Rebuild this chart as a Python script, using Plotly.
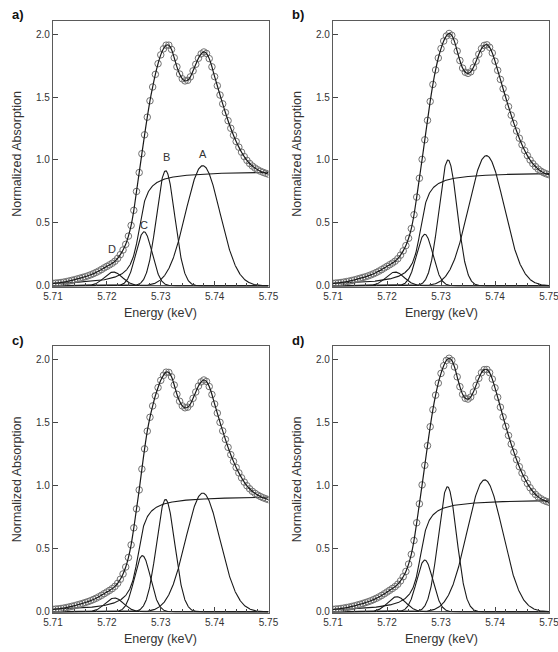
import numpy as np
import plotly.graph_objects as go

# ---------------- values ----------------
panel_labels = ["a)", "b)", "c)", "d)"]
peak_names = ["D", "C", "B", "A"]

# energy grid of the measured spectrum (keV), 0.5 eV steps
energy_start, energy_stop, energy_step = 5.7100, 5.7500, 0.0005

# measured normalized absorption (open circles), one list per panel
absorb_a = [0.020, 0.022, 0.024, 0.027, 0.030, 0.034, 0.039, 0.044, 0.049, 0.055,
            0.061, 0.067, 0.073, 0.080, 0.088, 0.097, 0.107, 0.118, 0.130, 0.143,
            0.155, 0.167, 0.180, 0.196, 0.218, 0.248, 0.285, 0.330, 0.395, 0.480,
            0.600, 0.750, 0.900, 1.050, 1.200, 1.340, 1.470, 1.580, 1.680, 1.765,
            1.835, 1.883, 1.912, 1.912, 1.878, 1.812, 1.740, 1.683, 1.645, 1.628,
            1.633, 1.660, 1.708, 1.760, 1.808, 1.843, 1.858, 1.846, 1.805, 1.740,
            1.662, 1.590, 1.516, 1.446, 1.377, 1.312, 1.252, 1.197, 1.147, 1.102,
            1.062, 1.027, 0.997, 0.972, 0.952, 0.936, 0.922, 0.911, 0.902, 0.894,
            0.887]
absorb_b = [0.020, 0.022, 0.024, 0.027, 0.030, 0.034, 0.038, 0.043, 0.048, 0.054,
            0.060, 0.066, 0.072, 0.079, 0.087, 0.096, 0.106, 0.117, 0.129, 0.142,
            0.155, 0.168, 0.181, 0.196, 0.216, 0.244, 0.278, 0.320, 0.378, 0.455,
            0.565, 0.705, 0.855, 1.005, 1.160, 1.315, 1.465, 1.600, 1.715, 1.810,
            1.885, 1.945, 1.985, 2.005, 1.990, 1.940, 1.865, 1.790, 1.730, 1.697,
            1.688, 1.700, 1.735, 1.785, 1.840, 1.885, 1.910, 1.915, 1.895, 1.850,
            1.785, 1.712, 1.640, 1.566, 1.494, 1.424, 1.356, 1.291, 1.230, 1.173,
            1.121, 1.075, 1.035, 1.000, 0.971, 0.947, 0.927, 0.911, 0.899, 0.890,
            0.883]
absorb_c = [0.020, 0.022, 0.024, 0.027, 0.030, 0.034, 0.039, 0.044, 0.049, 0.055,
            0.061, 0.067, 0.074, 0.081, 0.089, 0.098, 0.108, 0.119, 0.131, 0.144,
            0.157, 0.170, 0.184, 0.202, 0.226, 0.258, 0.300, 0.355, 0.430, 0.530,
            0.665, 0.815, 0.965, 1.130, 1.290, 1.430, 1.540, 1.630, 1.710, 1.775,
            1.832, 1.872, 1.897, 1.895, 1.860, 1.795, 1.722, 1.667, 1.630, 1.615,
            1.620, 1.645, 1.690, 1.740, 1.787, 1.820, 1.835, 1.823, 1.783, 1.720,
            1.645, 1.573, 1.500, 1.432, 1.365, 1.302, 1.244, 1.191, 1.143, 1.100,
            1.061, 1.027, 0.998, 0.974, 0.954, 0.938, 0.924, 0.913, 0.903, 0.895,
            0.888]
absorb_d = [0.020, 0.022, 0.024, 0.027, 0.030, 0.034, 0.038, 0.043, 0.048, 0.054,
            0.060, 0.066, 0.073, 0.080, 0.088, 0.097, 0.107, 0.118, 0.130, 0.143,
            0.157, 0.171, 0.185, 0.200, 0.219, 0.245, 0.278, 0.320, 0.378, 0.455,
            0.565, 0.705, 0.855, 1.005, 1.160, 1.315, 1.465, 1.600, 1.715, 1.810,
            1.887, 1.948, 1.990, 2.007, 1.990, 1.938, 1.860, 1.782, 1.722, 1.690,
            1.684, 1.700, 1.740, 1.793, 1.848, 1.893, 1.917, 1.918, 1.893, 1.842,
            1.773, 1.698, 1.620, 1.543, 1.468, 1.396, 1.328, 1.264, 1.204, 1.149,
            1.099, 1.055, 1.016, 0.982, 0.953, 0.929, 0.910, 0.895, 0.883, 0.874,
            0.867]
absorb = [absorb_a, absorb_b, absorb_c, absorb_d]

# arctan edge step of each fit
step_height = [0.915, 0.905, 0.920, 0.893]
step_center = [5.7260, 5.7262, 5.7258, 5.7262]
step_width = [0.0011, 0.0011, 0.0011, 0.0011]

# Gaussian fit components of each panel, order D, C, B, A
peak_centers = [
    [5.7212, 5.7269, 5.7309, 5.7378],
    [5.7215, 5.7270, 5.7313, 5.7384],
    [5.7214, 5.7266, 5.7309, 5.7378],
    [5.7218, 5.7270, 5.7312, 5.7381],
]
peak_heights = [
    [0.11, 0.43, 0.915, 0.955],
    [0.11, 0.41, 1.000, 1.035],
    [0.11, 0.445, 0.890, 0.940],
    [0.12, 0.41, 0.990, 1.045],
]
peak_sigmas = [
    [0.0017, 0.0015, 0.0017, 0.0032],
    [0.0017, 0.0015, 0.0017, 0.0033],
    [0.0017, 0.0015, 0.0017, 0.0032],
    [0.0017, 0.0015, 0.0017, 0.0033],
]

x_ticks = [5.71, 5.72, 5.73, 5.74, 5.75]
y_ticks = [0.0, 0.5, 1.0, 1.5, 2.0]
x_range = [5.71, 5.75]
y_range = [-0.005, 2.104]

# ---------------- layout geometry (pixels) ----------------
W, H = 558, 652
cols = [(53, 268.5), (333, 549)]
rows = [(21, 286.5), (346, 612.5)]
# peak-letter positions in panel a (keV, absorption units)
letter_pos = [(5.7209, 0.29), (5.7269, 0.48), (5.7310, 1.025), (5.7378, 1.05)]

n_pts = int(round((energy_stop - energy_start) / energy_step)) + 1
E_data = energy_start + energy_step * np.arange(n_pts)
E_fine = np.linspace(x_range[0], x_range[1], 801)


def step_fn(E, i):
    return step_height[i] * (0.5 + np.arctan((E - step_center[i]) / step_width[i]) / np.pi)


def gauss(E, c, h, s):
    return h * np.exp(-0.5 * ((E - c) / s) ** 2)


fig = go.Figure()
font_family = "Liberation Sans, Arial, sans-serif"
txt_col = "#333333"
line_col = "#1a1a1a"

annotations = []
for i in range(4):
    r, cidx = divmod(i, 2)
    x0, x1 = cols[cidx]
    y0, y1 = rows[r]
    n = "" if i == 0 else str(i + 1)
    xa, ya = "x" + n, "y" + n
    # fit components
    fig.add_trace(go.Scatter(x=E_fine, y=step_fn(E_fine, i), mode="lines",
                             line=dict(color=line_col, width=1.1), xaxis=xa, yaxis=ya,
                             showlegend=False, hoverinfo="skip"))
    for c, h, s in zip(peak_centers[i], peak_heights[i], peak_sigmas[i]):
        fig.add_trace(go.Scatter(x=E_fine, y=gauss(E_fine, c, h, s), mode="lines",
                                 line=dict(color=line_col, width=1.1), xaxis=xa, yaxis=ya,
                                 showlegend=False, hoverinfo="skip"))
    # measured data (open circles)
    fig.add_trace(go.Scatter(x=E_data, y=absorb[i], mode="markers",
                             marker=dict(symbol="circle-open", size=6.5,
                                         color="#707070", line=dict(width=1.0, color="#707070")),
                             xaxis=xa, yaxis=ya, showlegend=False))
    # total fit line through the data
    fig.add_trace(go.Scatter(x=E_data, y=absorb[i], mode="lines",
                             line=dict(color=line_col, width=1.2, shape="spline", smoothing=0.8),
                             xaxis=xa, yaxis=ya, showlegend=False, hoverinfo="skip"))

    dom_x = [x0 / W, x1 / W]
    dom_y = [1 - y1 / H, 1 - y0 / H]
    axis_common = dict(showline=True, linecolor="#5a5a5a", linewidth=1.3, mirror=True,
                       ticks="inside", tickcolor="#444444", showgrid=False, zeroline=False,
                       automargin=False, ticklabeloverflow="allow",
                       tickfont=dict(family=font_family, size=10, color=txt_col))
    fig.update_layout(**{
        ("xaxis" + n): dict(domain=dom_x, range=x_range, tickvals=x_ticks,
                            ticktext=["%.2f" % v for v in x_ticks], ticklen=5,
                            minor=dict(dtick=0.002, ticks="inside", ticklen=3, tickcolor="#444444"),
                            anchor=ya, **axis_common),
        ("yaxis" + n): dict(domain=dom_y, range=y_range, tickvals=y_ticks,
                            ticktext=["%.1f" % v for v in y_ticks], ticklen=5,
                            anchor=xa, **axis_common),
    })
    annotations.append(dict(x=(x0 + x1) / 2 / W, y=1 - (y1 + 26) / H, xref="paper", yref="paper",
                            text="Energy (keV)", showarrow=False, xanchor="center", yanchor="middle",
                            font=dict(family=font_family, size=12.5, color=txt_col)))
    annotations.append(dict(x=(x0 - 36) / W, y=1 - (y0 + y1) / 2 / H, xref="paper", yref="paper",
                            text="Normalized Absorption", showarrow=False, textangle=-90,
                            xanchor="center", yanchor="middle",
                            font=dict(family=font_family, size=12.5, color=txt_col)))
    annotations.append(dict(x=(x0 - 43) / W, y=1 - (y0 - 6) / H, xref="paper", yref="paper",
                            text="<b>%s</b>" % panel_labels[i], showarrow=False,
                            xanchor="left", yanchor="middle",
                            font=dict(family=font_family, size=13, color="#111111")))

for name, (lx, ly) in zip(peak_names, letter_pos):
    annotations.append(dict(x=lx, y=ly, xref="x", yref="y", text=name,
                            showarrow=False, xanchor="center", yanchor="middle",
                            font=dict(family=font_family, size=11, color=txt_col)))

fig.update_layout(width=W, height=H, margin=dict(l=0, r=0, t=0, b=0, autoexpand=False),
                  plot_bgcolor="white", paper_bgcolor="white",
                  annotations=annotations, showlegend=False)

fig.write_html("out.html", config={"displayModeBar": False},
               post_script="document.body.style.margin='0px';document.body.style.overflow='hidden';")
